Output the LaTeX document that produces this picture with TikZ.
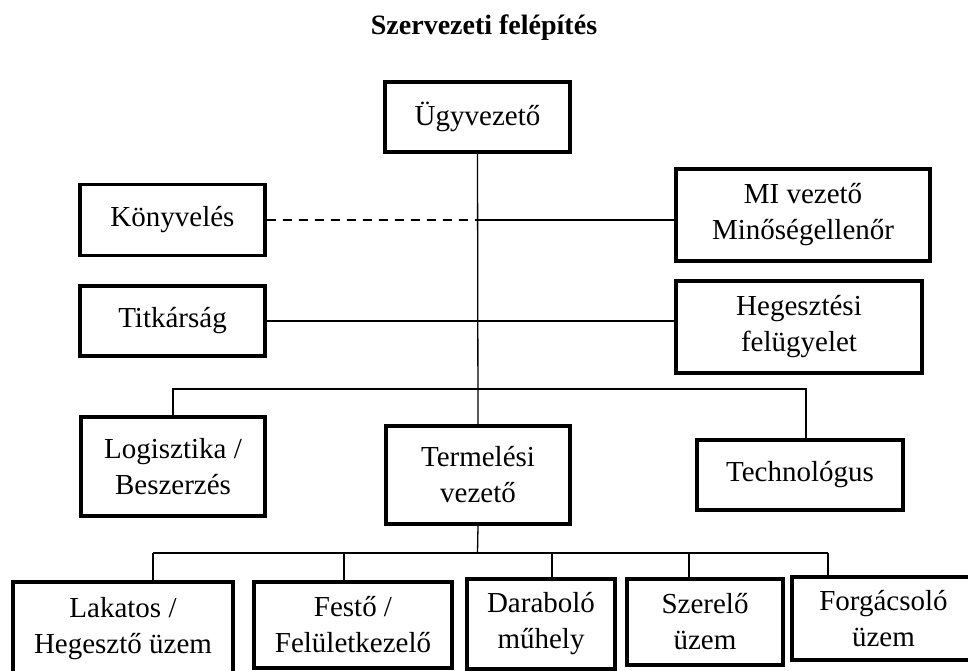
\documentclass[tikz,border=0pt]{standalone}
\usepackage{fontspec}
\setmainfont{Liberation Serif}
\begin{document}
\begin{tikzpicture}[x=1pt,y=-1pt,
  box/.style={draw, line width=3.2pt, align=center, inner sep=0pt, font=\fontsize{29}{36}\selectfont},
  conn/.style={line width=1.3pt},
  dashconn/.style={line width=1.3pt, dash pattern=on 9pt off 7pt},
  titletext/.style={font=\bfseries\fontsize{28}{34}\selectfont}
]
\clip (0,0) rectangle (968,671);
\useasboundingbox (0,0) rectangle (968,671);

\node[titletext] (title) at (484,28) {Szervezeti felépítés};

\node[box, minimum width=185pt, minimum height=70pt] (ugy) at (477.5,117) {Ügyvezető};
\node[box, minimum width=185pt, minimum height=71pt] (konyv) at (172.5,220) {Könyvelés};
\node[box, minimum width=185pt, minimum height=70pt] (titk) at (172.5,321) {Titkárság};
\node[box, minimum width=254pt, minimum height=92pt] (mi) at (803,215) {MI vezető\\Minőségellenőr};
\node[box, minimum width=246pt, minimum height=92pt] (heg) at (799,327) {Hegesztési\\felügyelet};
\node[box, minimum width=184pt, minimum height=99pt] (log) at (173,466.5) {Logisztika /\\Beszerzés};
\node[box, minimum width=184pt, minimum height=98pt] (term) at (478,475) {Termelési\\vezető};
\node[box, minimum width=206pt, minimum height=70pt] (tech) at (800,475) {Technológus};

\node[box, minimum width=220pt, minimum height=93pt] (lak) at (123,628.5) {Lakatos /\\Hegesztő üzem};
\node[box, minimum width=198pt, minimum height=86pt] (fest) at (353,625) {Festő /\\Felületkezelő};
\node[box, minimum width=148pt, minimum height=90pt] (dar) at (541,624) {Daraboló\\műhely};
\node[box, minimum width=156pt, minimum height=86pt] (szer) at (705,622) {Szerelő\\üzem};
\node[box, minimum width=183pt, minimum height=83pt] (forg) at (883.5,618.5) {Forgácsoló\\üzem};

% main spine
\draw[conn] (ugy.south) -- (term.north);
\coordinate (bus) at (477.5,553);
\draw[conn] (term.south) -- (bus);

% staff lines
\draw[dashconn] (konyv.east) -- (konyv.east -| ugy.south);
\draw[conn] (konyv.east -| ugy.south) -- (konyv.east -| mi.west);
\draw[conn] (titk.east) -- (titk.east -| heg.west);

% middle bus
\coordinate (dT) at (806,389);
\draw[conn] (log.north) |- (dT) -- (dT |- tech.north);

% bottom bus
\coordinate (d1) at (153,553);
\coordinate (d2) at (344,553);
\coordinate (d3) at (552,553);
\coordinate (d4) at (689,553);
\coordinate (d5) at (828,553);
\draw[conn] (d1) -- (d5);
\foreach \d/\n in {d1/lak,d2/fest,d3/dar,d4/szer,d5/forg}
  \draw[conn] (\d) -- (\d |- \n.north);
\end{tikzpicture}
\end{document}
